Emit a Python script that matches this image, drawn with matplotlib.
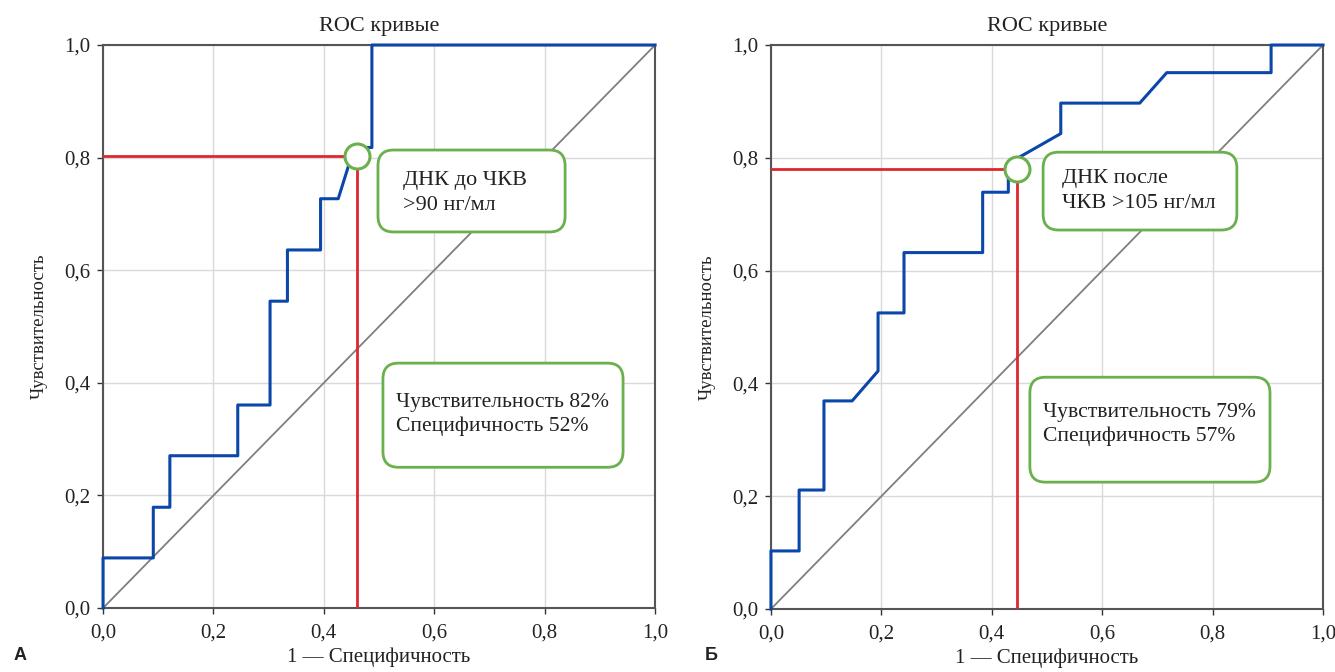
import matplotlib
matplotlib.use("Agg")
import matplotlib.pyplot as plt
from matplotlib.patches import FancyBboxPatch

# данные кривых
roc_a_x = [0, 0, 0.091, 0.091, 0.121, 0.121, 0.244, 0.244, 0.3025, 0.3025, 0.334, 0.334,
           0.394, 0.394, 0.426, 0.455, 0.487, 0.487, 1.0]
roc_a_y = [0, 0.089, 0.089, 0.179, 0.179, 0.2705, 0.2705, 0.3606, 0.3606, 0.545, 0.545, 0.636,
           0.636, 0.727, 0.727, 0.818, 0.818, 1.0, 1.0]
roc_b_x = [0, 0, 0.051, 0.051, 0.096, 0.096, 0.147, 0.194, 0.194, 0.241, 0.241, 0.3835, 0.3835,
           0.430, 0.430, 0.525, 0.525, 0.668, 0.717, 0.906, 0.906, 1.0]
roc_b_y = [0, 0.103, 0.103, 0.211, 0.211, 0.369, 0.369, 0.422, 0.525, 0.525, 0.632, 0.632, 0.739,
           0.739, 0.79, 0.843, 0.897, 0.897, 0.951, 0.951, 1.0, 1.0]

# точки отсечения (1 - специфичность, чувствительность)
cut_a = (0.4607, 0.802)
cut_b = (0.445, 0.780)

ticks = [0, 0.2, 0.4, 0.6, 0.8, 1.0]
tick_labels = ["0,0", "0,2", "0,4", "0,6", "0,8", "1,0"]

labels_top = ["ДНК до ЧКВ\n>90 нг/мл", "ДНК после\nЧКВ >105 нг/мл"]
labels_bottom = ["Чувствительность 82%\nСпецифичность 52%",
                 "Чувствительность 79%\nСпецифичность 57%"]
panel_letters = ["А", "Б"]

serif = "Liberation Serif"
blue = "#0a47a8"
red = "#e0262e"
green = "#6ab04c"
txt = "#222222"

fig = plt.figure(figsize=(13.35, 6.72), dpi=100)
ax_a = fig.add_axes([0.0772, 0.0952, 0.4135, 0.8378])
ax_b = fig.add_axes([0.5775, 0.0937, 0.4135, 0.8393])

# положения рамок с текстом (в координатах данных)
boxes_top = [(0.498, 0.668, 0.339, 0.1455), (0.493, 0.672, 0.351, 0.138)]
boxes_bottom = [(0.507, 0.250, 0.435, 0.185), (0.469, 0.225, 0.435, 0.186)]
text_top = [(0.543, 0.737), (0.527, 0.741)]
text_bottom = [(0.531, 0.343), (0.493, 0.327)]

for i, (ax, rx, ry, cut) in enumerate([(ax_a, roc_a_x, roc_a_y, cut_a),
                                       (ax_b, roc_b_x, roc_b_y, cut_b)]):
    ax.set_xlim(0, 1)
    ax.set_ylim(0, 1)
    ax.grid(True, color="#d9d9d9", lw=1)
    ax.set_axisbelow(True)
    ax.plot([0, 1], [0, 1], color="#7f7f7f", lw=1.3, zorder=2)
    ax.plot(rx, ry, color=blue, lw=2.2, zorder=3, clip_on=False)
    ax.plot([0, cut[0]], [cut[1], cut[1]], color=red, lw=2, zorder=4)
    ax.plot([cut[0], cut[0]], [0, cut[1]], color=red, lw=2, zorder=4)
    ax.plot(cut[0], cut[1], marker="o", ms=18, mfc="white", mec=green, mew=2.2, zorder=5)

    for (bx, by, bw, bh) in [boxes_top[i], boxes_bottom[i]]:
        ax.add_patch(FancyBboxPatch((bx, by), bw, bh,
                                    boxstyle="round,pad=0,rounding_size=0.028",
                                    fc="white", ec=green, lw=2, zorder=6))
    ax.text(*text_top[i], labels_top[i], family=serif, fontsize=16, va="center",
            ha="left", linespacing=1.4, color=txt, zorder=7)
    ax.text(*text_bottom[i], labels_bottom[i], family=serif, fontsize=15.6, va="center",
            ha="left", linespacing=1.3, color=txt, zorder=7)

    ax.set_xticks(ticks)
    ax.set_xticklabels(tick_labels)
    ax.set_yticks(ticks)
    ax.set_yticklabels(tick_labels)
    ax.tick_params(labelsize=15, length=4, width=1, color="#333333", pad=5)
    ax.tick_params(axis="x", pad=7)
    for lab in ax.get_xticklabels() + ax.get_yticklabels():
        lab.set_family(serif)
        lab.set_color(txt)
    for sp in ax.spines.values():
        sp.set_color("#555555")
        sp.set_linewidth(1.5)

    ax.set_title("ROC кривые", family=serif, fontsize=16, pad=10, color=txt)
    ax.set_ylabel("Чувствительность", family=serif, fontsize=13.5, labelpad=12, color=txt)
    ax.set_xlabel("1 — Специфичность", family=serif, fontsize=15, labelpad=4, color=txt)

fig.text(0.0105, 0.018, panel_letters[0], family="Liberation Sans", fontweight="bold",
         fontsize=13, color=txt)
fig.text(0.528, 0.018, panel_letters[1], family="Liberation Sans", fontweight="bold",
         fontsize=13, color=txt)

fig.savefig("out.png", dpi=100)
